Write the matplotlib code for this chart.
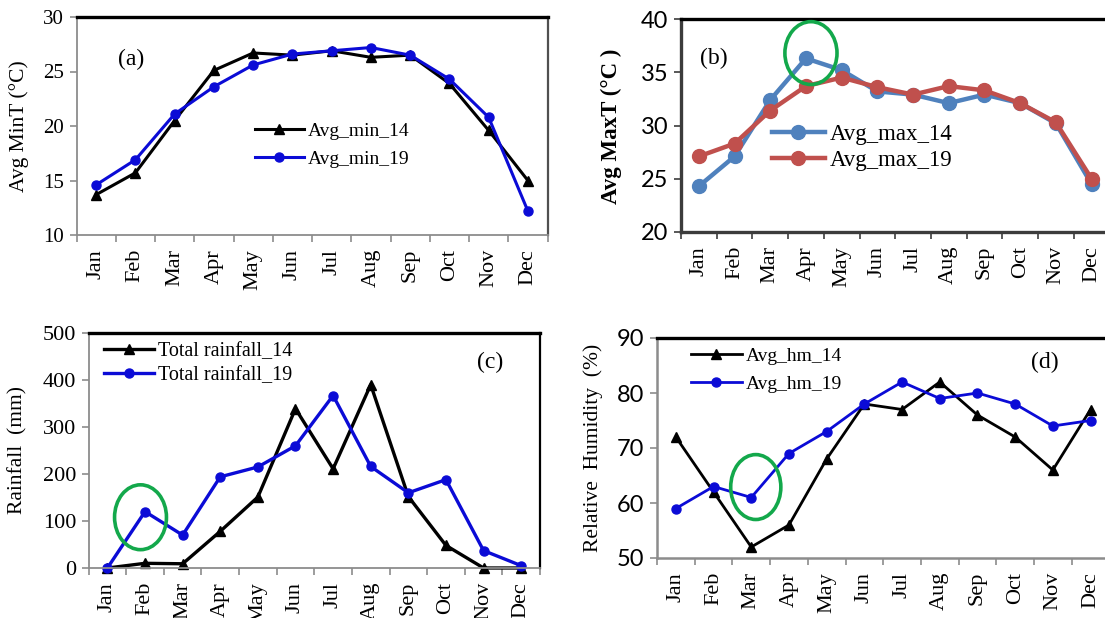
import matplotlib

matplotlib.use("Agg")
import matplotlib.pyplot as plt
from matplotlib.patches import Ellipse

W, H = 1105, 618
SERIF = "Liberation Serif"
SANS = "Lato"

MONTHS = ["Jan", "Feb", "Mar", "Apr", "May", "Jun",
          "Jul", "Aug", "Sep", "Oct", "Nov", "Dec"]

# (a) average minimum temperature
min_14 = [13.7, 15.7, 20.5, 25.1, 26.7, 26.5, 26.9, 26.3, 26.5, 23.9, 19.6, 15.0]
min_19 = [14.6, 16.9, 21.1, 23.6, 25.6, 26.6, 26.9, 27.2, 26.5, 24.3, 20.8, 12.2]

# (b) average maximum temperature
max_14 = [24.3, 27.1, 32.4, 36.3, 35.2, 33.2, 32.9, 32.1, 32.9, 32.1, 30.2, 24.5]
max_19 = [27.1, 28.3, 31.4, 33.7, 34.5, 33.6, 32.9, 33.7, 33.3, 32.1, 30.3, 25.0]

# (c) total rainfall
rain_14 = [0, 10, 9, 78, 151, 339, 211, 390, 152, 48, 0, 0]
rain_19 = [0, 120, 70, 194, 215, 260, 367, 216, 160, 188, 37, 5]

# (d) relative humidity
hm_14 = [72, 62, 52, 56, 68, 78, 77, 82, 76, 72, 66, 77]
hm_19 = [59, 63, 61, 69, 73, 78, 82, 79, 80, 78, 74, 75]

GREEN = "#13a84b"


def px(x, y):
    """Image pixel -> figure fraction."""
    return x / W, 1 - y / H


def frame(fig, box):
    x0, y0, x1, y1 = box
    return fig.add_axes([x0 / W, 1 - y1 / H, (x1 - x0) / W, (y1 - y0) / H])


def style_axes(ax, yticks, spine_col, spine_lw, right_col, tick_font, tick_size,
               month_size):
    ax.set_xlim(-0.5, 11.5)
    ax.set_ylim(yticks[0], yticks[-1])
    ax.set_yticks(yticks)
    ax.set_xticks(range(12))
    ax.set_xticks([i - 0.5 for i in range(13)], minor=True)
    ax.set_xticklabels(MONTHS, rotation=90, fontfamily=SERIF, fontsize=month_size)
    ax.tick_params(axis="x", which="major", length=0, pad=10)
    ax.tick_params(axis="x", which="minor", length=5, width=1.2, color=spine_col)
    ax.tick_params(axis="y", length=5, width=1.2, color=spine_col, pad=4,
                   labelsize=tick_size)
    for lab in ax.get_yticklabels():
        lab.set_fontfamily(tick_font)
    ax.spines["left"].set_color(spine_col)
    ax.spines["left"].set_linewidth(spine_lw)
    ax.spines["bottom"].set_color(spine_col)
    ax.spines["bottom"].set_linewidth(spine_lw)
    ax.spines["top"].set_color("black")
    ax.spines["top"].set_linewidth(2.4)
    if right_col is None:
        ax.spines["right"].set_visible(False)
    else:
        ax.spines["right"].set_color(right_col)
        ax.spines["right"].set_linewidth(1.6)


def place_ylabel(ax, fig, text, x_right, y_mid, **kw):
    ax.set_ylabel(text, fontfamily=SERIF, **kw)
    ax.yaxis.set_label_coords(x_right / W, 1 - y_mid / H,
                              transform=fig.transFigure)


def add_legend(ax, fig, x0, ytop, size, hl, spacing):
    ax.legend(loc="upper left", bbox_to_anchor=px(x0, ytop),
              bbox_transform=fig.transFigure, frameon=False, borderpad=0,
              borderaxespad=0, handlelength=hl, handletextpad=0.2,
              labelspacing=spacing, numpoints=1,
              prop={"family": SERIF, "size": size})


def panel_label(fig, text, x, y):
    fig.text(*px(x, y), text, ha="center", va="center",
             fontfamily=SERIF, fontsize=17)


def main():
    fig = plt.figure(figsize=(W / 100, H / 100), dpi=100)
    x = list(range(12))

    # (a) -------------------------------------------------------------
    ax = frame(fig, (76.5, 17, 547.5, 235))
    ax.plot(x, min_14, color="black", lw=2.2, marker="^", ms=7,
            label="Avg_min_14", clip_on=False)
    ax.plot(x, min_19, color="#0b0bd6", lw=2.2, marker="o", ms=6.5,
            label="Avg_min_19", clip_on=False)
    style_axes(ax, [10, 15, 20, 25, 30], "#8c8c8c", 1.3, "#505050", SERIF, 15, 16)
    place_ylabel(ax, fig, "Avg MinT (°C)", 29, 126, fontsize=15.5)
    add_legend(ax, fig, 255, 122, 14, 2.5, 0.55)
    panel_label(fig, "(a)", 131, 59)

    # (b) -------------------------------------------------------------
    ax = frame(fig, (681, 19, 1109.4, 232))
    ax.plot(x, max_14, color="#4f81bd", lw=3.2, marker="o", ms=10,
            label="Avg_max_14", clip_on=False)
    ax.plot(x, max_19, color="#c0504d", lw=3.2, marker="o", ms=10,
            label="Avg_max_19", clip_on=False)
    style_axes(ax, [20, 25, 30, 35, 40], "#3c3c3c", 2.4, None, SANS, 17, 16)
    place_ylabel(ax, fig, "Avg MaxT (°C )", 622, 126, fontsize=16.5,
                 fontweight="bold")
    add_legend(ax, fig, 772, 124, 16.5, 2.3, 0.2)
    panel_label(fig, "(b)", 714, 58)
    ax.add_patch(Ellipse((3.14, 36.8), 1.46, 5.9, fill=False, edgecolor=GREEN,
                         lw=2.6, clip_on=False, zorder=5))

    # (c) -------------------------------------------------------------
    ax = frame(fig, (88.6, 333, 540, 568))
    ax.plot(x, rain_14, color="black", lw=2.4, marker="^", ms=6.5,
            label="Total rainfall_14", clip_on=False)
    ax.plot(x, rain_19, color="#0b0bd6", lw=2.4, marker="o", ms=6.5,
            label="Total rainfall_19", clip_on=False)
    style_axes(ax, [0, 100, 200, 300, 400, 500], "#8c8c8c", 1.3, "black",
               SERIF, 16, 16)
    place_ylabel(ax, fig, "Rainfall  (mm)", 27, 450, fontsize=15.5)
    add_legend(ax, fig, 104, 341.5, 14.5, 2.5, 0.25)
    panel_label(fig, "(c)", 490, 362)
    ax.add_patch(Ellipse((0.88, 108), 1.38, 138, fill=False, edgecolor=GREEN,
                         lw=2.6, clip_on=False, zorder=5))

    # (d) -------------------------------------------------------------
    ax = frame(fig, (657, 338, 1109.4, 558))
    ax.plot(x, hm_14, color="black", lw=2.0, marker="^", ms=6.5,
            label="Avg_hm_14", clip_on=False)
    ax.plot(x, hm_19, color="#0b0bd6", lw=2.0, marker="o", ms=6.5,
            label="Avg_hm_19", clip_on=False)
    style_axes(ax, [50, 60, 70, 80, 90], "#8c8c8c", 1.8, None, SANS, 17, 16)
    place_ylabel(ax, fig, "Relative  Humidity  (%)", 603, 448, fontsize=15.5)
    add_legend(ax, fig, 691, 347, 14, 2.6, 0.55)
    panel_label(fig, "(d)", 1045, 362)
    ax.add_patch(Ellipse((2.12, 62.9), 1.33, 11.8, fill=False, edgecolor=GREEN,
                         lw=2.6, clip_on=False, zorder=5))

    fig.savefig("out.png", dpi=100)
    plt.close(fig)


if __name__ == "__main__":
    main()
